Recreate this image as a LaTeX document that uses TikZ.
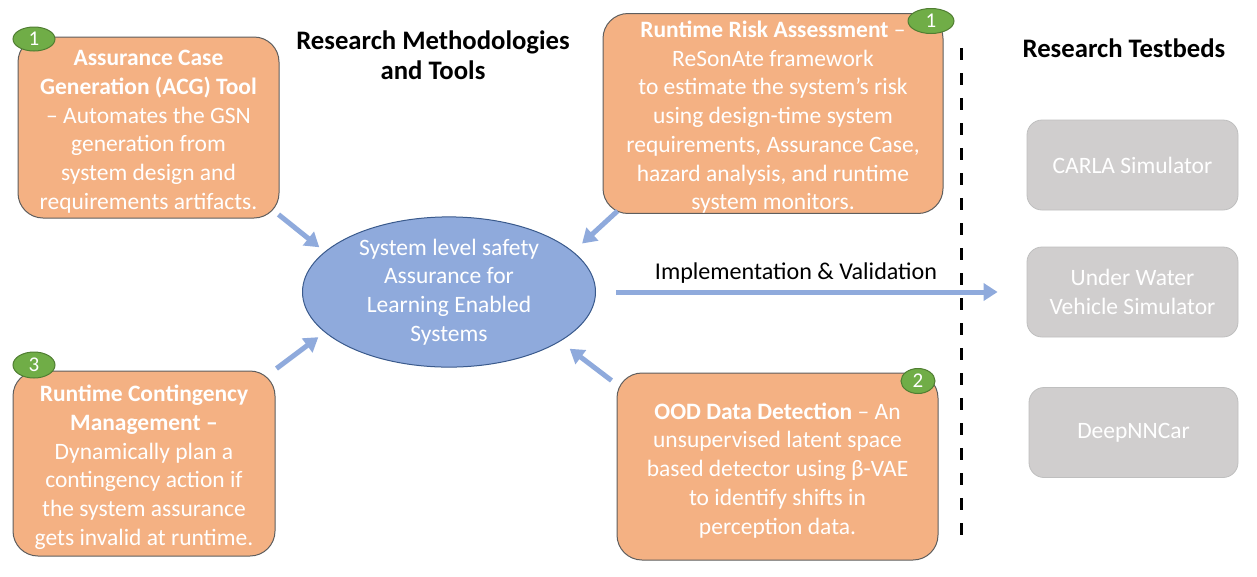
\documentclass[tikz,border=0pt]{standalone}
\usepackage{fontspec}
\setmainfont{Carlito}
\usetikzlibrary{shapes.geometric,arrows.meta,calc}
\definecolor{boxorange}{HTML}{F4B183}
\definecolor{boxedge}{HTML}{5E5E5E}
\definecolor{ellfill}{HTML}{8FAADC}
\definecolor{elledge}{HTML}{3A5A8C}
\definecolor{badgefill}{HTML}{70AD47}
\definecolor{badgeedge}{HTML}{507E32}
\definecolor{tbfill}{HTML}{D0CECE}
\definecolor{tbedge}{HTML}{BFBFBF}
\definecolor{arrowblue}{HTML}{8FAADC}
% taller first line, pushes a box's text block slightly down
\newcommand\toppad{\rule{0pt}{24pt}}
\tikzset{
  bodytext/.style={font=\fontsize{23.5pt}{28.7pt}\selectfont, align=center},
  obox/.style={bodytext, draw=boxedge, line width=1pt, fill=boxorange, text=white,
    rounded corners=25pt, inner sep=0pt},
  badge/.style={ellipse, draw=badgeedge, line width=1pt, fill=badgefill, text=white,
    font=\fontsize{21pt}{24pt}\selectfont, inner sep=0pt},
  tbox/.style={bodytext, draw=tbedge, line width=0.8pt, fill=tbfill, text=white,
    rounded corners=15pt, inner sep=0pt, minimum width=211pt, minimum height=90pt},
  title/.style={font=\bfseries\fontsize{26.7pt}{30pt}\selectfont, align=center},
  barrow/.style={draw=arrowblue, line width=5pt,
    -{Triangle[length=14pt,width=17pt]}},
}
\begin{document}
\begin{tikzpicture}[x=1pt,y=-1pt]
\useasboundingbox (0,0) rectangle (1257,576);

% headings
\node[title] (htools) at (433,55) {Research Methodologies\\and Tools};
\node[title] (htest) at (1124,48) {Research Testbeds};

% method boxes
\node[obox, minimum width=261pt, minimum height=181pt] (acg) at (148.5,127.5)
  {\toppad\textbf{Assurance Case}\\\textbf{Generation (ACG) Tool}\\– Automates the GSN\\generation from\\system design and\\requirements artifacts.};
\node[obox, minimum width=340pt, minimum height=199pt] (risk) at (773,113.5)
  {\toppad\textbf{Runtime Risk Assessment} –\\ReSonAte framework\\to estimate the system’s risk\\using design-time system\\requirements, Assurance Case,\\hazard analysis, and runtime\\system monitors.};
\node[obox, minimum width=262pt, minimum height=185pt] (rcm) at (144,463.5)
  {\toppad\textbf{Runtime Contingency}\\\textbf{Management –}\\Dynamically plan a\\contingency action if\\the system assurance\\gets invalid at runtime.};
\node[obox, minimum width=321pt, minimum height=187pt] (ood) at (777.5,466.5)
  {\toppad\textbf{OOD Data Detection} – An\\unsupervised latent space\\based detector using β-VAE\\to identify shifts in\\perception data.};

% numbered badges
\node[badge, minimum width=42pt, minimum height=24pt] (b1) at (34,39) {1};
\node[badge, minimum width=46pt, minimum height=25pt] (b2) at (931,21) {1};
\node[badge, minimum width=42pt, minimum height=26pt] (b3) at (34,365) {3};
\node[badge, minimum width=34pt, minimum height=25pt] (b4) at (918,381) {2};

% central goal
\node[ellipse, draw=elledge, line width=1pt, fill=ellfill, text=white, bodytext,
  minimum width=293pt, minimum height=149pt, inner sep=0pt] (ell) at (449,292)
  {System level safety\\Assurance for\\Learning Enabled\\Systems};

% testbeds
\node[tbox] (carla) at (1132.5,165) {CARLA Simulator};
\node[tbox] (uw) at (1132.5,292) {Under Water\\Vehicle Simulator};
\node[tbox, minimum width=209pt] (dnn) at (1133.5,432.5) {DeepNNCar};

% separator
\draw[black, line width=3pt, dash pattern=on 12pt off 13pt] (961,48) -- (961,540);

% contributions into the goal
\draw[barrow, shorten >=7pt] ($(acg.south east)+(-1,-4)$) -- (ell.162);
\draw[barrow, shorten >=12pt] ($(risk.south west)+(15,-3)$) -- (ell.18.7);
\draw[barrow, shorten >=8pt] ($(rcm.north east)+(1,-2)$) -- (ell.198);
\draw[barrow, shorten >=12pt] ($(ood.north west)+(-5,8)$) -- (ell.336.7);

% goal to testbeds
\draw[barrow, shorten <=20pt, shorten >=29pt] (ell.east) -- (uw.west);
\node[bodytext, font=\fontsize{24.1pt}{28.7pt}\selectfont, text=black] (impl) at (796,273)
  {Implementation \& Validation};
\end{tikzpicture}
\end{document}
